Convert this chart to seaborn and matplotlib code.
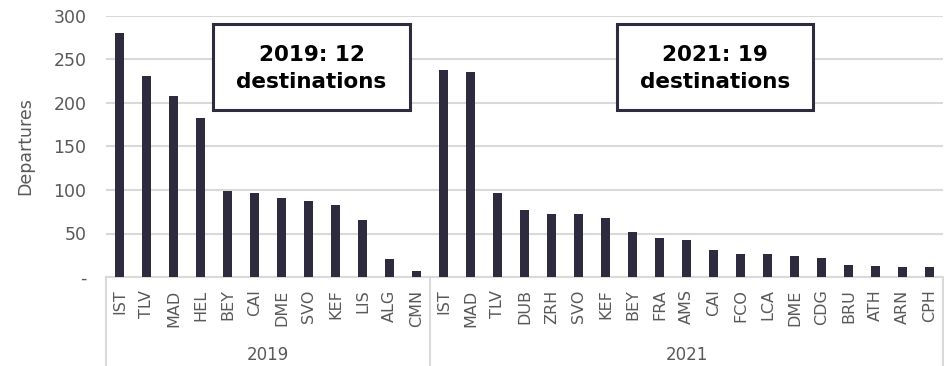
import matplotlib
matplotlib.use("Agg")
import matplotlib.pyplot as plt
import matplotlib.transforms as mtransforms
from matplotlib.patches import Rectangle
from matplotlib.lines import Line2D
import pandas as pd
import seaborn as sns

# Departures per destination airport
dest_2019 = ["IST", "TLV", "MAD", "HEL", "BEY", "CAI", "DME", "SVO", "KEF", "LIS", "ALG", "CMN"]
dep_2019 = [281, 231, 208, 183, 99, 96, 91, 87, 83, 66, 21, 7]
dest_2021 = ["IST", "MAD", "TLV", "DUB", "ZRH", "SVO", "KEF", "BEY", "FRA", "AMS",
             "CAI", "FCO", "LCA", "DME", "CDG", "BRU", "ATH", "ARN", "CPH"]
dep_2021 = [238, 236, 96, 77, 72, 72, 68, 52, 45, 42, 31, 26, 26, 24, 22, 14, 13, 12, 12]
years = ["2019", "2021"]
box_text = ["2019: 12\ndestinations", "2021: 19\ndestinations"]
y_ticks = [0, 50, 100, 150, 200, 250, 300]

df = pd.DataFrame({
    "year": [years[0]] * len(dest_2019) + [years[1]] * len(dest_2021),
    "dest": dest_2019 + dest_2021,
    "departures": dep_2019 + dep_2021,
})
df["key"] = df["year"] + "|" + df["dest"]

sns.set_theme(style="white")
plt.rcParams["font.family"] = ["DejaVu Sans"]

BAR = "#2e2b3f"
GRID = "#d9d9d9"
TXT = "#595959"

fig = plt.figure(figsize=(9.45, 3.66), dpi=100)
ax = fig.add_axes([106 / 945, 1 - 277 / 366, (943 - 106) / 945, (277 - 16) / 366])

sns.barplot(data=df, x="key", y="departures", order=list(df["key"]),
            color=BAR, width=0.35, saturation=1, linewidth=0, ax=ax, zorder=3)

ax.set_xlim(-0.5, len(df) - 0.5)
ax.set_ylim(0, 300)
ax.set_yticks(y_ticks)
ax.set_yticklabels(["-" if v == 0 else str(v) for v in y_ticks])
ax.set_xticks(range(len(df)))
ax.set_xticklabels(df["dest"], rotation=90)
ax.tick_params(axis="x", length=0, pad=9, labelsize=11.5, colors=TXT)
ax.tick_params(axis="y", length=0, pad=14, labelsize=12.5, colors=TXT)
ax.set_xlabel("")
ax.set_ylabel("Departures", fontsize=12.5, color=TXT, labelpad=14)

ax.grid(axis="y", color=GRID, linewidth=1.5, zorder=0)
ax.set_axisbelow(True)
for side in ["top", "right", "left"]:
    ax.spines[side].set_visible(False)
ax.spines["bottom"].set_color(GRID)
ax.spines["bottom"].set_linewidth(1.5)

# Two-level category axis: group separators and year labels
blend = mtransforms.blended_transform_factory(ax.transData, fig.transFigure)
n19 = len(dest_2019)
bottom_fig = 1 - 277 / 366
for xs in [-0.5, n19 - 0.5, len(df) - 0.5]:
    fig.add_artist(Line2D([xs, xs], [0, bottom_fig], transform=blend,
                          color=GRID, linewidth=1.5))
centers = [(n19 - 1) / 2, n19 + (len(dest_2021) - 1) / 2]
for c, yr in zip(centers, years):
    fig.text(c, 1 - 355 / 366, yr, transform=blend, ha="center", va="center",
             fontsize=12, color=TXT)

# Summary boxes
boxes = [(3.46, 10.76), (18.43, 25.69)]
for (x0, x1), label in zip(boxes, box_text):
    ax.add_patch(Rectangle((x0, 192), x1 - x0, 290.8 - 192, facecolor="white",
                           edgecolor=BAR, linewidth=2.2, zorder=5, clip_on=False))
    ax.text((x0 + x1) / 2, 239.5, label, ha="center", va="center", fontsize=15.5,
            fontweight="bold", color="black", linespacing=1.4, zorder=6)

fig.savefig("out.png", dpi=100)
